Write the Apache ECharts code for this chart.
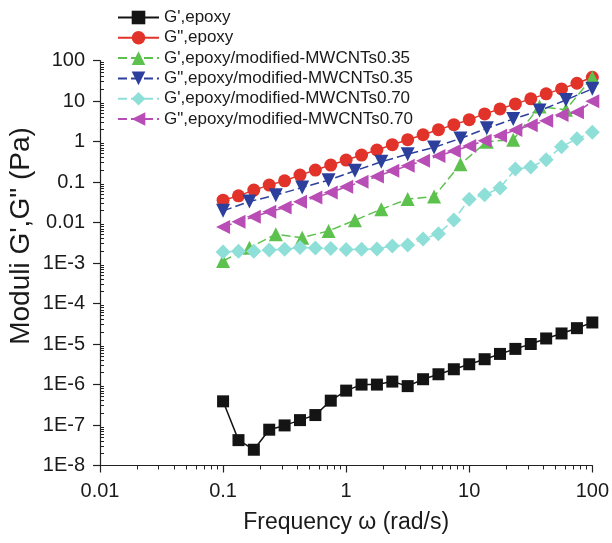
<!DOCTYPE html>
<html>
<head>
<meta charset="utf-8">
<script src="https://cdn.jsdelivr.net/npm/echarts@6/dist/echarts.min.js"></script>
<style>
html,body{margin:0;padding:0;background:#fff;}
#chart{width:612px;height:543px;}
</style>
</head>
<body>
<div id="chart"></div>
<script>
// Frequencies (rad/s)
var freqA = [0.1,0.1334,0.1778,0.2371,0.3162,0.4217,0.5623,0.7499,1,1.334,1.778,2.371,3.162,4.217,5.623,7.499,10,13.34,17.78,23.71,31.62,42.17,56.23,74.99,100];
var freqB = [0.1,0.1638,0.2683,0.4394,0.7197,1.179,1.931,3.162,5.179,8.483,13.89,22.76,37.28,61.05,100];

var seriesNames = ["G',epoxy", "G\",epoxy", "G',epoxy/modified-MWCNTs0.35", "G\",epoxy/modified-MWCNTs0.35", "G',epoxy/modified-MWCNTs0.70", "G\",epoxy/modified-MWCNTs0.70"];

var gp_epoxy = [3.84e-7,4.23e-8,2.45e-8,7.66e-8,9.77e-8,1.32e-7,1.76e-7,3.99e-7,7.06e-7,9.95e-7,9.95e-7,1.18e-6,9.12e-7,1.35e-6,1.79e-6,2.38e-6,3.16e-6,4.21e-6,5.69e-6,7.57e-6,1.00e-5,1.37e-5,1.82e-5,2.46e-5,3.40e-5];
var gpp_epoxy = [0.0356,0.0455,0.0631,0.0838,0.107,0.148,0.197,0.262,0.348,0.463,0.616,0.833,1.11,1.47,1.96,2.61,3.46,4.80,6.37,8.48,11.3,15.0,19.9,27.4,38.6];
var gp_035 = [0.00112,0.00239,0.00513,0.00423,0.00619,0.0114,0.0213,0.0378,0.0437,0.274,0.989,1.11,7.27,6.12,37.9];
var gpp_035 = [0.0194,0.0329,0.0474,0.0731,0.111,0.189,0.316,0.485,0.715,1.19,2.11,3.60,5.79,10.6,20.0];
var gp_070 = [0.00187,0.00195,0.00195,0.00210,0.00218,0.00242,0.00235,0.00229,0.00216,0.00218,0.00222,0.00264,0.00279,0.00393,0.00531,0.0116,0.0373,0.0482,0.0710,0.208,0.234,0.355,0.743,1.17,1.68];
var gpp_070 = [0.00778,0.0105,0.0138,0.0183,0.0234,0.0324,0.0413,0.0549,0.0760,0.101,0.137,0.189,0.252,0.335,0.438,0.582,0.774,1.05,1.39,1.93,2.51,3.27,4.53,5.25,9.84];

var yTickLabels = ['1E-8','1E-7','1E-6','1E-5','1E-4','1E-3','0.01','0.1','1','10','100'];
var xTickLabels = ['0.01','0.1','1','10','100'];
var xTitle = 'Frequency \u03c9 (rad/s)';
var yTitle = "Moduli G',G\" (Pa)";

function pairs(xs, ys){ return ys.map(function(v,i){ return [xs[i], v]; }); }
// minor tick positions, as decimal exponents (for helper value axes in log10 space)
function minorTickExps(e0, e1){
  var out = [];
  for (var e = e0; e < e1; e++) for (var k = 2; k <= 9; k++) out.push(e + Math.log10(k));
  return out;
}

var FONT = 'Liberation Sans, Arial, sans-serif';
var chart = echarts.init(document.getElementById('chart'), null, {renderer:'canvas'});

function mk(name, xs, ys, color, symbol, size, rotate, dashed){
  return {
    name: name, type: 'line', data: pairs(xs, ys),
    symbol: symbol, symbolSize: size, symbolRotate: rotate,
    showSymbol: true, animation: false,
    itemStyle: {color: color, opacity: 1},
    lineStyle: {color: color, width: 1.5, type: dashed ? [9,4] : 'solid'},
    emphasis: {disabled: true}
  };
}

var option = {
  backgroundColor: '#fff',
  animation: false,
  textStyle: {fontFamily: FONT},
  grid: {left: 100, right: 19, top: 60.5, bottom: 77.5, containLabel: false},
  legend: {
    orient: 'vertical', left: 117, top: 9, padding: 0,
    itemWidth: 41, itemHeight: 17, itemGap: 3.3,
    textStyle: {fontFamily: FONT, fontSize: 17, color: '#1a1a1a'},
    data: seriesNames
  },
  graphic: [{
    type: 'text', x: 21, y: 236, rotation: Math.PI / 2,
    style: {text: yTitle, font: '28px ' + FONT, fill: '#1a1a1a', align: 'center', verticalAlign: 'middle'}
  }],
  xAxis: [{
    type: 'log', logBase: 10, min: 0.01, max: 100, interval: 1,
    name: xTitle, nameLocation: 'middle', nameGap: 46,
    nameTextStyle: {fontFamily: FONT, fontSize: 23, color: '#1a1a1a'},
    axisLine: {onZero: false, lineStyle: {color: '#222', width: 1.2}},
    axisTick: {show: true, inside: false, length: 7, lineStyle: {color: '#222', width: 1.2}},
    splitLine: {show: false},
    axisLabel: {fontFamily: FONT, fontSize: 20, color: '#1a1a1a', margin: 16,
      formatter: function(v){ var e = Math.round(Math.log10(v)); return xTickLabels[e+2] || ''; }}
  },{
    type: 'value', min: -2, max: 2, position: 'bottom', offset: 0,
    axisLine: {show: false, onZero: false},
    axisTick: {show: true, inside: false, length: 4, customValues: minorTickExps(-2, 2), lineStyle: {color: '#222', width: 1}},
    axisLabel: {show: false}, splitLine: {show: false}
  }],
  yAxis: [{
    type: 'log', logBase: 10, min: 1e-8, max: 100, interval: 1,
    axisLine: {show: true, onZero: false, lineStyle: {color: '#222', width: 1.2}},
    axisTick: {show: true, inside: false, length: 7, lineStyle: {color: '#222', width: 1.2}},
    splitLine: {show: false},
    axisLabel: {fontFamily: FONT, fontSize: 20, color: '#1a1a1a', margin: 15,
      formatter: function(v){ var e = Math.round(Math.log10(v)); return yTickLabels[e+8] || ''; }}
  },{
    type: 'value', min: -8, max: 2, position: 'left', offset: 0,
    axisLine: {show: false, onZero: false},
    axisTick: {show: true, inside: true, length: 4, customValues: minorTickExps(-8, 2), lineStyle: {color: '#222', width: 1}},
    axisLabel: {show: false}, splitLine: {show: false}
  }],
  series: [
    mk(seriesNames[0], freqA, gp_epoxy, '#141414', 'rect', 12, 0, false),
    mk(seriesNames[1], freqA, gpp_epoxy, '#e2332a', 'circle', 13, 0, false),
    mk(seriesNames[2], freqB, gp_035, '#5cc24d', 'triangle', 14, 0, true),
    mk(seriesNames[3], freqB, gpp_035, '#2c3f9c', 'triangle', 14, 180, true),
    mk(seriesNames[4], freqA, gp_070, '#8fdfd9', 'diamond', 15, 0, true),
    mk(seriesNames[5], freqA, gpp_070, '#b94db6', 'triangle', 14, 90, true)
  ]
};
chart.setOption(option);
</script>
</body>
</html>
